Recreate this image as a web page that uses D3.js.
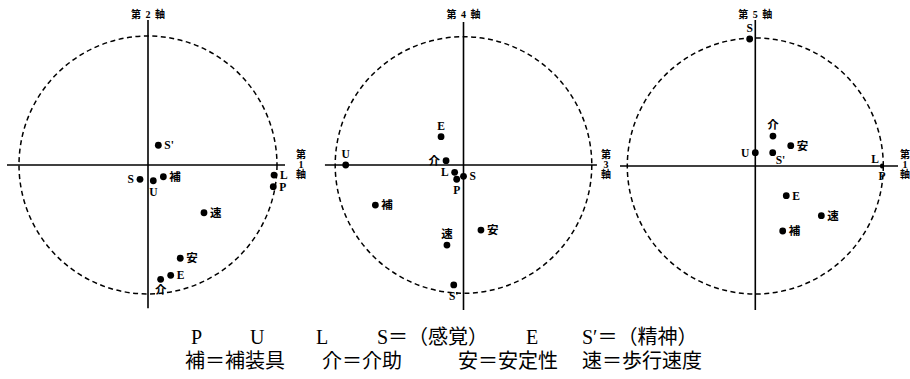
<!DOCTYPE html>
<html>
<head>
<meta charset="utf-8">
<script src="https://cdn.jsdelivr.net/npm/d3@7"></script>
<style>
	body { margin: 0; background: #fff; }
	text { fill: #000; }
	.pt-label { font-family: "Liberation Serif", "Noto Sans CJK JP", serif; font-size: 11.5px; font-weight: bold; }
	.ax-label { font-family: "Liberation Serif", "Noto Sans CJK JP", serif; font-size: 10px; font-weight: bold; }
	.legend { font-family: "Liberation Serif", "Noto Sans CJK JP", serif; font-size: 20px; }
</style>
</head>
<body>
<script>
// SVG Size
var width = 910,
	height = 379;

// items, same order in every panel
var categories = ["P", "U", "L", "S", "E", "S'", "補", "介", "安", "速"];

// loadings (horizontal axis, vertical axis)
var axis1vs2X = [0.971, 0.041, 0.977, -0.062, 0.176, 0.080, 0.119, 0.098, 0.250, 0.434];
var axis1vs2Y = [-0.168, -0.122, -0.078, -0.111, -0.855, 0.153, -0.091, -0.886, -0.723, -0.370];

var axis3vs4X = [-0.053, -0.918, -0.069, 0.000, -0.175, -0.076, -0.687, -0.136, 0.136, -0.129];
var axis3vs4Y = [-0.111, 0.000, -0.057, -0.088, 0.221, -0.935, -0.312, 0.034, -0.507, -0.624];

var axis1vs5X = [0.990, 0.000, 0.990, -0.044, 0.242, 0.136, 0.214, 0.138, 0.277, 0.516];
var axis1vs5Y = [-0.004, 0.104, 0.004, 0.992, -0.232, 0.104, -0.508, 0.234, 0.159, -0.388];

// axis names
var topAxisNames = ["第2軸", "第4軸", "第5軸"];
var sideAxisNames = ["第1軸", "第3軸", "第1軸"];

// legend text
var legendRow1 = ["P", "U", "L", "S＝（感覚）", "E", "S′＝（精神）"];
var legendRow2 = ["補＝補装具", "介＝介助", "安＝安定性", "速＝歩行速度"];

// where each point label sits, same order as categories
var labelSides = [
	["r", "b", "r", "l", "r", "r", "r", "b", "r", "r"],
	["b", "t", "l", "r", "t", "b", "r", "l", "r", "t"],
	["bs", "l", "tl", "t", "r", "rb", "r", "t", "r", "r"]
];

var panels = [
	{ cx: 148, cy: 165, R: 129, xs: axis1vs2X, ys: axis1vs2Y, h: [-1.093, 1.062], v: [-1.11, 1.124] },
	{ cx: 463.5, cy: 165, R: 128.3, xs: axis3vs4X, ys: axis3vs4Y, h: [-1.08, 1.04], v: [-1.13, 1.115] },
	{ cx: 755.3, cy: 166, R: 128, xs: axis1vs5X, ys: axis1vs5Y, h: [-1.057, 1.115], v: [-1.125, 1.14] }
];
// side axis label columns
var sideLabelX = [301, 606, 905];

var svg = d3.select("body").append("svg")
	.attr("width", width)
	.attr("height", height);

var offsets = {
	r: [6, 0, "start"], l: [-6, 0, "end"], t: [0, -11, "middle"], b: [0, 11, "middle"],
	tl: [-3, -7, "end"], rb: [3, 7, "start"], bs: [0, 9.5, "middle"]
};

panels.forEach(function(p, i) {
	var xScale = d3.scaleLinear().domain([-1, 1]).range([p.cx - p.R, p.cx + p.R]);
	var yScale = d3.scaleLinear().domain([-1, 1]).range([p.cy + p.R, p.cy - p.R]);
	var g = svg.append("g").attr("class", "panel");

	// dashed unit circle
	g.append("circle")
		.attr("cx", xScale(0))
		.attr("cy", yScale(0))
		.attr("r", xScale(1) - xScale(0))
		.attr("fill", "none")
		.attr("stroke", "#000")
		.attr("stroke-width", 1.5)
		.attr("stroke-dasharray", "5,3.5");

	// axes
	g.append("line")
		.attr("x1", xScale(p.h[0])).attr("x2", xScale(p.h[1]))
		.attr("y1", yScale(0)).attr("y2", yScale(0))
		.attr("stroke", "#000").attr("stroke-width", 1.6);
	g.append("line")
		.attr("x1", xScale(0)).attr("x2", xScale(0))
		.attr("y1", yScale(p.v[0])).attr("y2", yScale(p.v[1]))
		.attr("stroke", "#000").attr("stroke-width", 1.6);

	g.append("text")
		.attr("class", "ax-label")
		.attr("x", xScale(0))
		.attr("y", 18)
		.attr("text-anchor", "middle")
		.attr("word-spacing", "2px")
		.text(topAxisNames[i].split("").join(" "));

	var pts = categories.map(function(c, j) {
		return { name: c, x: p.xs[j], y: p.ys[j], side: labelSides[i][j] };
	});

	g.selectAll("circle.pt")
		.data(pts)
		.enter()
		.append("circle")
		.attr("class", "pt")
		.attr("cx", function(d) { return xScale(d.x); })
		.attr("cy", function(d) { return yScale(d.y); })
		.attr("r", function(d) { return d.side == "bs" || d.side == "tl" ? 2 : 3.4; })
		.attr("fill", "#000");

	g.selectAll("text.pt-label")
		.data(pts)
		.enter()
		.append("text")
		.attr("class", "pt-label")
		.attr("x", function(d) { return xScale(d.x) + offsets[d.side][0]; })
		.attr("y", function(d) { return yScale(d.y) + offsets[d.side][1]; })
		.attr("dy", "0.35em")
		.attr("text-anchor", function(d) { return offsets[d.side][2]; })
		.text(function(d) { return d.name; });
});

// stacked side labels (shared between neighbouring panels)
sideAxisNames.forEach(function(name, i) {
	svg.append("g")
		.selectAll("text")
		.data(name.split(""))
		.enter()
		.append("text")
		.attr("class", "ax-label")
		.attr("x", sideLabelX[i])
		.attr("y", function(d, k) { return 154 + k * 10; })
		.attr("dy", "0.35em")
		.attr("text-anchor", "middle")
		.text(function(d) { return d; });
});

// legend rows
var row1X = [191, 250, 316, 377, 526, 582];
var row2X = [185, 322, 458, 582];
svg.append("g").selectAll("text")
	.data(legendRow1)
	.enter()
	.append("text")
	.attr("class", "legend")
	.attr("x", function(d, k) { return row1X[k]; })
	.attr("y", 344)
	.text(function(d) { return d; });
svg.append("g").selectAll("text")
	.data(legendRow2)
	.enter()
	.append("text")
	.attr("class", "legend")
	.attr("x", function(d, k) { return row2X[k]; })
	.attr("y", 368)
	.text(function(d) { return d; });
</script>
</body>
</html>
